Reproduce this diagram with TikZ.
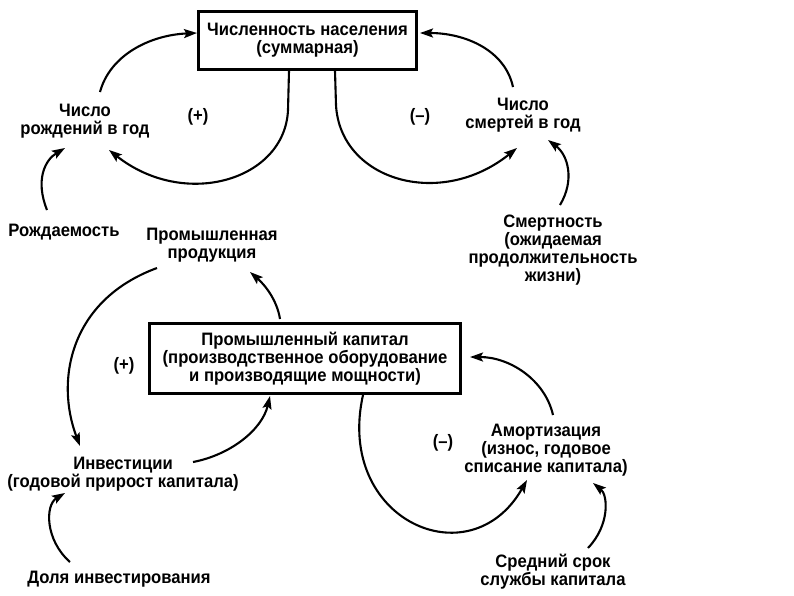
\documentclass[tikz,border=0pt]{standalone}
\usepackage{fontspec}
\setmainfont{Liberation Sans}
\newfontfamily\heavy{Liberation Sans}[UprightFont=*-Bold,FakeStretch=0.925]
\usetikzlibrary{arrows.meta}
\begin{document}
\begin{tikzpicture}[x=1pt,y=-1pt,
  lbl/.style={align=center,inner sep=0pt,font=\heavy\fontsize{18}{18}\selectfont},
  bigbox/.style={draw,line width=3.2pt,inner sep=0pt,align=center,font=\heavy\fontsize{18}{18}\selectfont},
  conn/.style={line width=2.1pt,-{Stealth[length=13pt,width=9pt,inset=2.5pt]}}]
\useasboundingbox[fill=white] (0,0) rectangle (794,595);
% nodes
\node[bigbox,minimum width=218pt,minimum height=58pt] (pop) at (307.5,40.5) {Численность населения\\(суммарная)};
\node[bigbox,minimum width=311pt,minimum height=70pt] (cap) at (305,358.5) {Промышленный капитал\\(производственное оборудование\\и производящие мощности)};
\node[lbl] (births) at (85,121) {Число\\рождений в год};
\node[lbl] (deaths) at (523,115) {Число\\смертей в год};
\node[lbl] (birthrate) at (64,232) {Рождаемость};
\node[lbl] (indprod) at (212,245) {Промышленная\\продукция};
\node[lbl] (mort) at (553,250) {Смертность\\(ожидаемая\\продолжительность\\жизни)};
\node[lbl] (invest) at (123,474) {Инвестиции\\(годовой прирост капитала)};
\node[lbl] (share) at (119,579) {Доля инвестирования};
\node[lbl] (amort) at (546,450) {Амортизация\\(износ, годовое\\списание капитала)};
\node[lbl] (life) at (553,572) {Средний срок\\службы капитала};
\node[lbl] (p1) at (198,117) {(+)};
\node[lbl] (m1) at (420,117) {(–)};
\node[lbl] (p2) at (124,366) {(+)};
\node[lbl] (m2) at (443,443) {(–)};
% end points
\coordinate (popL) at (197,33);
\coordinate (popR) at (420,33);
\coordinate (popB1) at (289,71);
\coordinate (popB2) at (335,71);
\coordinate (birthsT) at (100,92);
\coordinate (birthsR) at (109,150);
\coordinate (birthsB) at (65,148);
\coordinate (deathsT) at (513,87);
\coordinate (deathsL) at (517,148);
\coordinate (deathsB) at (548,140);
\coordinate (birthrateT) at (47,210);
\coordinate (mortT) at (560,205);
\coordinate (capT) at (280,319);
\coordinate (capB1) at (270,396);
\coordinate (capB2) at (363,395);
\coordinate (capR) at (470,357);
\coordinate (indprodB1) at (157,268);
\coordinate (indprodB2) at (250,272);
\coordinate (investT) at (80,446);
\coordinate (investR) at (193,462);
\coordinate (investB) at (65,493);
\coordinate (shareT) at (70,562);
\coordinate (amortT) at (553,415);
\coordinate (amortB1) at (527,480);
\coordinate (amortB2) at (593,483);
\coordinate (lifeT) at (588,548);
% connectors
\draw[conn] (birthsT) .. controls (110,55) and (150,35) .. (popL);
\draw[conn] (popB1) -- (288,110) .. controls (285,180) and (185,210) .. (birthsR);
\draw[conn] (popB2) -- (336,105) .. controls (340,180) and (440,210) .. (deathsL);
\draw[conn] (deathsT) .. controls (505,50) and (465,33) .. (popR);
\draw[conn] (birthrateT) .. controls (35,180) and (45,160) .. (birthsB);
\draw[conn] (mortT) .. controls (575,180) and (568,155) .. (deathsB);
\draw[conn] (capT) .. controls (277,300) and (265,285) .. (indprodB2);
\draw[conn] (indprodB1) .. controls (70,300) and (55,380) .. (investT);
\draw[conn] (investR) .. controls (230,455) and (262,430) .. (capB1);
\draw[conn] (capB2) .. controls (335,520) and (470,580) .. (amortB1);
\draw[conn] (amortT) .. controls (545,380) and (510,357) .. (capR);
\draw[conn] (lifeT) .. controls (610,525) and (608,495) .. (amortB2);
\draw[conn] (shareT) .. controls (45,540) and (45,505) .. (investB);
\end{tikzpicture}
\end{document}
